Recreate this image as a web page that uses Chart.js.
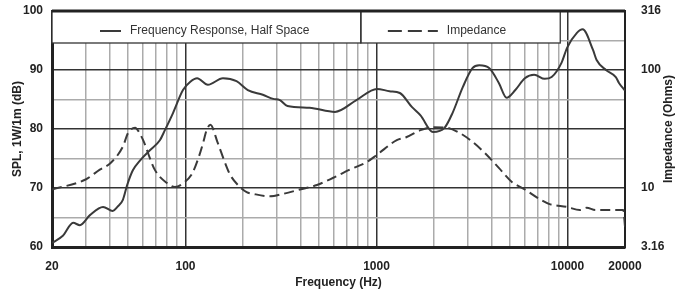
<!DOCTYPE html>
<html>
<head>
<meta charset="utf-8">
<script src="https://cdn.jsdelivr.net/npm/chart.js@4.4.0/dist/chart.umd.min.js"></script>
<style>
html, body { margin: 0; padding: 0; background: #fff; }
</style>
</head>
<body>
<canvas id="myChart" width="684" height="291"></canvas>
<script>
// frequency response, half space (dB SPL)
const splFreq = [20, 22.8, 25.8, 28, 31.6, 37, 41.6, 44, 47, 49.5, 53, 57.9, 65.1, 73.4, 78, 86, 97, 106, 115, 131,
  157, 185, 212, 254, 288, 312, 342, 446, 606, 785, 1005, 1170, 1325, 1535, 1700, 1975, 2270, 2500, 2830, 3180,
  3450, 3900, 4370, 4800, 5330, 5980, 6690, 7600, 8260, 9300, 9960, 11200, 12000, 13600, 14200, 15900, 17900, 18600, 20000]
const splValues = [60.7, 61.9, 64.1, 63.7, 65.4, 66.8, 66.1, 66.8, 68, 70.5, 73, 74.7, 76.4, 78.1, 79.8, 82.7, 86.6, 88, 88.6, 87.5,
  88.6, 88.1, 86.6, 85.8, 85.1, 84.9, 83.9, 83.6, 82.9, 84.9, 86.8, 86.4, 86.1, 83.7, 82.3, 79.5, 80.2, 82.7, 87.1, 90.3,
  90.8, 90.3, 87.8, 85.3, 86.6, 88.6, 89.2, 88.5, 88.8, 91.2, 93.8, 96.3, 96.9, 93.4, 91.7, 90, 88.8, 87.8, 86.5]

// impedance (ohms)
const impFreq = [20, 30, 35.6, 40.4, 47, 50, 54.5, 57, 60, 69, 80, 88, 99, 109, 118, 124, 129, 135, 147, 160,
  171, 188, 209, 227, 277, 323, 397, 488, 594, 725, 890, 1005, 1277, 1430, 1700, 1975, 2330, 2730, 3190, 3700,
  4370, 5130, 5980, 7000, 8050, 9960, 11600, 12600, 14000, 16100, 19600, 20000]
const impValues = [9.7, 11.8, 14.3, 16.2, 22.4, 29.2, 32.4, 29.9, 25.4, 14.3, 11.0, 10.2, 11.2, 13.5, 18.8, 24.5, 30.9, 34.3, 24.5, 16.8,
  13.0, 10.6, 9.2, 8.9, 8.5, 8.9, 9.7, 10.6, 12.2, 14.3, 16.6, 19.1, 25.4, 26.9, 30.9, 32.7, 32.4, 29.2, 24.5, 19.7,
  14.8, 11.2, 9.7, 8.2, 7.3, 6.9, 6.5, 6.8, 6.5, 6.5, 6.5, 4.7]

const xTicks = [20, 30, 40, 50, 60, 70, 80, 90, 100, 200, 300, 400, 500, 600, 700, 800, 900,
  1000, 2000, 3000, 4000, 5000, 6000, 7000, 8000, 9000, 10000, 20000]
const xLabels = [20, 100, 1000, 10000, 20000]
const xMajor = [100, 1000, 10000]
const impTicks = [3.16, 10, 100, 316]

const seriesNames = ['Frequency Response, Half Space', 'Impedance']

const tickFont = { family: 'Liberation Sans, Arial, sans-serif', size: 12, weight: 'bold' }
const ink = '#333'
const minorGrid = '#ababab'

// legend boxes + top border, drawn over the grid
const legendBoxes = {
  id: 'legendBoxes',
  beforeDatasetsDraw(chart) {
    const { ctx, chartArea: a } = chart
    const w = a.right - a.left
    const x1 = a.left, x2 = a.left + w * 0.539, x3 = a.left + w * 0.887
    const y1 = a.top, y2 = a.top + 32
    ctx.save()
    ctx.fillStyle = '#fff'
    ctx.fillRect(x1, y1, x3 - x1, y2 - y1)
    ctx.strokeStyle = ink
    ctx.lineWidth = 1.3
    ctx.strokeRect(x1, y1, x2 - x1, y2 - y1)
    ctx.strokeRect(x2, y1, x3 - x2, y2 - y1)

    const ly = y1 + 20
    ctx.lineWidth = 2
    ctx.strokeStyle = '#3a3a3a'
    ctx.beginPath()
    ctx.moveTo(x1 + 48, ly); ctx.lineTo(x1 + 69, ly)
    ctx.stroke()
    ctx.setLineDash([14, 6])
    ctx.beginPath()
    ctx.moveTo(x2 + 27, ly); ctx.lineTo(x2 + 77, ly)
    ctx.stroke()
    ctx.setLineDash([])

    ctx.fillStyle = '#333'
    ctx.font = '12px "Liberation Sans", Arial, sans-serif'
    ctx.textBaseline = 'middle'
    ctx.fillText(seriesNames[0], x1 + 78, ly)
    ctx.fillText(seriesNames[1], x2 + 86, ly)

    // top frame line
    ctx.strokeStyle = '#222'
    ctx.lineWidth = 3
    ctx.beginPath()
    ctx.moveTo(a.left, a.top); ctx.lineTo(a.right, a.top)
    ctx.stroke()
    ctx.restore()
  },
  afterDraw(chart) {
    // right axis title reads bottom-to-top
    const { ctx, chartArea: a } = chart
    ctx.save()
    ctx.translate(669, (a.top + a.bottom) / 2)
    ctx.rotate(-Math.PI / 2)
    ctx.font = 'bold 12px "Liberation Sans", Arial, sans-serif'
    ctx.fillStyle = '#222'
    ctx.textAlign = 'center'
    ctx.textBaseline = 'middle'
    ctx.fillText('Impedance (Ohms)', 0, 0)
    ctx.restore()
  }
}

const fitVertical = w => s => {
  s.width = w
  s.paddingTop = 11
  s.paddingBottom = 0
}

const ctx = document.getElementById('myChart').getContext('2d')

const chart = new Chart(ctx, {
  type: 'line',
  data: {
    datasets: [{
      label: seriesNames[0],
      data: splFreq.map((f, i) => ({ x: f, y: splValues[i] })),
      yAxisID: 'y',
      borderColor: '#3a3a3a',
      borderWidth: 2,
      pointRadius: 0,
      cubicInterpolationMode: 'monotone'
    }, {
      label: seriesNames[1],
      data: impFreq.map((f, i) => ({ x: f, y: impValues[i] })),
      yAxisID: 'y2',
      borderColor: '#3a3a3a',
      borderWidth: 2,
      borderDash: [10, 5],
      pointRadius: 0,
      cubicInterpolationMode: 'monotone'
    }]
  },
  options: {
    responsive: false,
    animation: false,
    layout: { padding: 0 },
    plugins: {
      legend: { display: false },
      tooltip: { enabled: false }
    },
    scales: {
      x: {
        type: 'logarithmic',
        min: 20,
        max: 20000,
        afterBuildTicks: s => { s.ticks = xTicks.map(v => ({ value: v })) },
        afterFit: s => { s.height = 44; s.paddingLeft = 0; s.paddingRight = 0 },
        ticks: {
          autoSkip: false,
          maxRotation: 0,
          padding: 12,
          font: tickFont,
          color: '#222',
          callback: v => xLabels.includes(v) ? String(v) : ''
        },
        grid: {
          color: c => xMajor.includes(c.tick.value) ? ink : minorGrid,
          lineWidth: 1.5,
          drawTicks: false
        },
        border: { color: '#222', width: 3 },
        title: {
          display: true,
          text: 'Frequency (Hz)',
          font: tickFont,
          color: '#222',
          padding: { top: 0, bottom: 1 }
        }
      },
      y: {
        type: 'linear',
        position: 'left',
        min: 60,
        max: 100,
        afterFit: fitVertical(52),
        ticks: {
          stepSize: 5,
          padding: 9,
          font: tickFont,
          color: '#222',
          callback: v => v % 10 === 0 ? String(v) : ''
        },
        grid: {
          color: c => c.tick.value % 10 === 0 ? ink : minorGrid,
          lineWidth: 1.5,
          drawTicks: false
        },
        border: { color: '#222', width: 3 },
        title: {
          display: true,
          text: 'SPL, 1W/1m (dB)',
          font: tickFont,
          color: '#222',
          padding: { top: 10, bottom: 0 }
        }
      },
      y2: {
        type: 'logarithmic',
        position: 'right',
        min: 3.16,
        max: 316,
        afterBuildTicks: s => { s.ticks = impTicks.map(v => ({ value: v })) },
        afterFit: fitVertical(59),
        ticks: {
          padding: 16,
          font: tickFont,
          color: '#222',
          callback: v => String(v)
        },
        grid: { drawOnChartArea: false, drawTicks: false },
        border: { color: '#222', width: 2 }
      }
    }
  },
  plugins: [legendBoxes]
})
</script>
</body>
</html>
